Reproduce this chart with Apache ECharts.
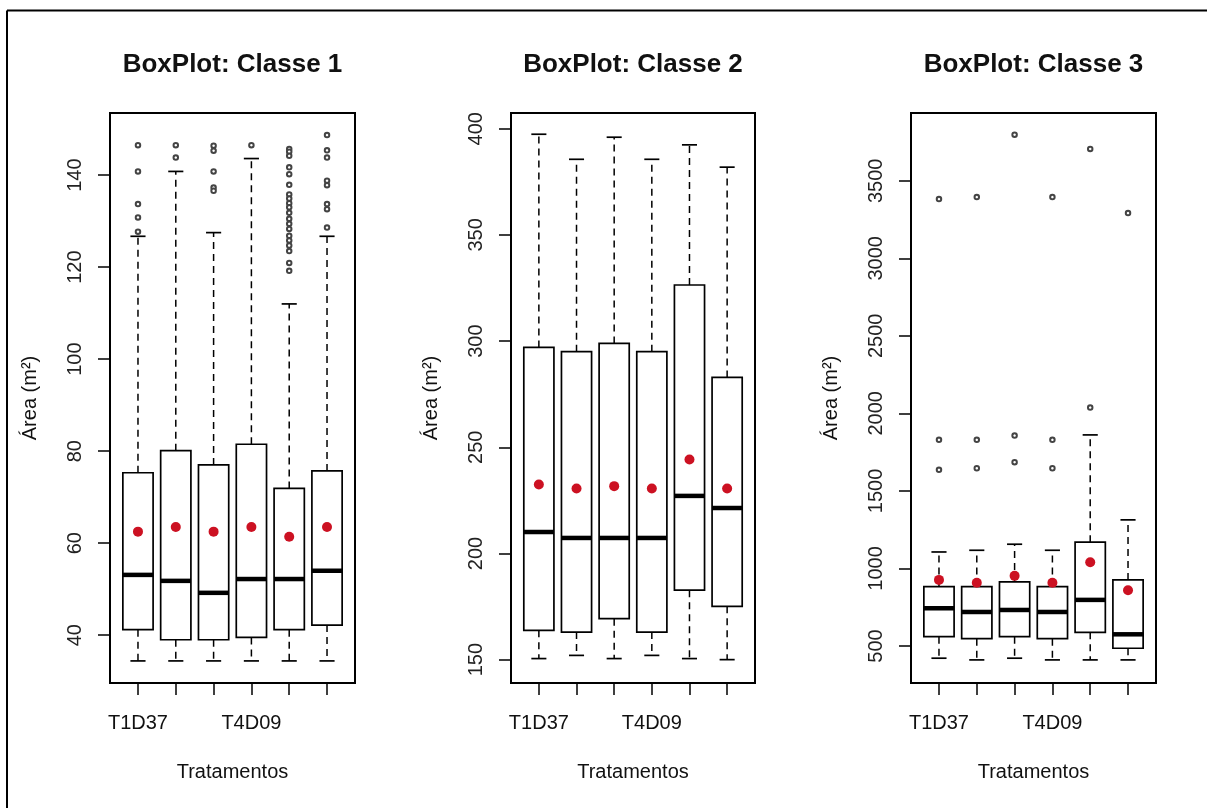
<!DOCTYPE html>
<html>
<head>
<meta charset="utf-8">
<script src="https://cdn.jsdelivr.net/npm/echarts@6/dist/echarts.min.js"></script>
<style>
html,body{margin:0;padding:0;background:#fff;}
#chart{width:1207px;height:808px;}
</style>
</head>
<body>
<div id="chart"></div>
<script>
// ---------- data ----------
const titles = ['BoxPlot: Classe 1', 'BoxPlot: Classe 2', 'BoxPlot: Classe 3'];
const xTickLabels = ['T1D37', '', '', 'T4D09', '', ''];
const xAxisTitle = 'Tratamentos';
const yAxisTitle = 'Área (m²)';

// [lower whisker, Q1, median, Q3, upper whisker]
const class1Stats = [
  [34.4, 41.2, 53.1, 75.3, 126.7],
  [34.4, 39.0, 51.8, 80.1, 140.8],
  [34.4, 39.0, 49.2, 77.0, 127.5],
  [34.4, 39.5, 52.2, 81.5, 143.6],
  [34.4, 41.2, 52.2, 71.9, 112.0],
  [34.4, 42.2, 54.0, 75.7, 126.7]
];
const class1Means = [62.5, 63.5, 62.5, 63.5, 61.4, 63.5];
const class1Outliers = [
  [1,146.5],[1,140.8],[1,133.7],[1,130.8],[1,127.7],
  [2,146.5],[2,143.8],
  [3,146.4],[3,145.3],[3,140.8],[3,137.3],[3,136.6],
  [4,146.5],
  [5,145.7],[5,145.1],[5,144.2],[5,141.7],[5,140.2],[5,137.9],[5,135.8],[5,134.9],
  [5,133.9],[5,133.0],[5,131.8],[5,130.5],[5,129.4],[5,128.3],[5,126.8],[5,125.8],
  [5,124.7],[5,123.5],[5,120.9],[5,119.2],
  [6,148.7],[6,145.4],[6,143.8],[6,138.8],[6,137.8],[6,133.7],[6,132.6],[6,128.6]
];
const class1Ticks = [40, 60, 80, 100, 120, 140];

const class2Stats = [
  [150.5, 163.8, 210.1, 297.0, 397.4],
  [152.0, 163.0, 207.3, 295.0, 385.6],
  [150.5, 169.3, 207.3, 298.9, 396.0],
  [152.0, 163.0, 207.3, 295.0, 385.6],
  [150.5, 182.7, 227.1, 326.4, 392.4],
  [150.0, 175.1, 221.4, 282.9, 381.9]
];
const class2Means = [232.5, 230.6, 231.7, 230.6, 244.2, 230.6];
const class2Outliers = [];
const class2Ticks = [150, 200, 250, 300, 350, 400];

const class3Stats = [
  [421, 560, 743, 883, 1106],
  [410, 547, 719, 883, 1117],
  [421, 560, 732, 913, 1156],
  [410, 547, 719, 883, 1117],
  [410, 588, 797, 1169, 1861],
  [410, 485, 575, 926, 1313]
];
const class3Means = [926, 908, 952, 908, 1040, 859];
const class3Outliers = [
  [1,1636],[1,1829],[1,3382],
  [2,1646],[2,1829],[2,3395],
  [3,1685],[3,1857],[3,3797],
  [4,1646],[4,1829],[4,3395],
  [5,2037],[5,3705],
  [6,3292]
];
const class3Ticks = [500, 1000, 1500, 2000, 2500, 3000, 3500];

// ---------- layout ----------
const panels = [
  {stats: class1Stats, means: class1Means, outliers: class1Outliers, ticks: class1Ticks,
   yMin: 29.6, yMax: 153.5, left: 110, width: 245},
  {stats: class2Stats, means: class2Means, outliers: class2Outliers, ticks: class2Ticks,
   yMin: 139.0, yMax: 407.4, left: 511, width: 244},
  {stats: class3Stats, means: class3Means, outliers: class3Outliers, ticks: class3Ticks,
   yMin: 261, yMax: 3937, left: 911, width: 245}
];
const gridTop = 113, gridHeight = 570;
const FONT = '"Liberation Sans", Arial, Helvetica, sans-serif';
const positions = [1, 2, 3, 4, 5, 6];

function renderBox(params, api) {
  const x = api.value(0);
  const lo = api.value(1), q1 = api.value(2), med = api.value(3), q3 = api.value(4), hi = api.value(5);
  const cx = api.coord([x, med])[0];
  const bl = api.coord([x - 0.4, med])[0], br = api.coord([x + 0.4, med])[0];
  const cl = api.coord([x - 0.2, med])[0], cr = api.coord([x + 0.2, med])[0];
  const yLo = api.coord([x, lo])[1], yQ1 = api.coord([x, q1])[1], yMed = api.coord([x, med])[1];
  const yQ3 = api.coord([x, q3])[1], yHi = api.coord([x, hi])[1];
  const dash = {stroke: '#000', lineWidth: 1.5, lineDash: [7, 5]};
  const solid = {stroke: '#000', lineWidth: 1.7};
  return {
    type: 'group',
    children: [
      {type: 'line', shape: {x1: cx, y1: yQ3, x2: cx, y2: yHi}, style: dash},
      {type: 'line', shape: {x1: cx, y1: yQ1, x2: cx, y2: yLo}, style: dash},
      {type: 'line', shape: {x1: cl, y1: yHi, x2: cr, y2: yHi}, style: solid},
      {type: 'line', shape: {x1: cl, y1: yLo, x2: cr, y2: yLo}, style: solid},
      {type: 'rect', shape: {x: bl, y: yQ3, width: br - bl, height: yQ1 - yQ3},
       style: {fill: '#fff', stroke: '#000', lineWidth: 1.7}},
      {type: 'line', shape: {x1: bl, y1: yMed, x2: br, y2: yMed},
       style: {stroke: '#000', lineWidth: 4.5}}
    ]
  };
}

const grids = [], xAxes = [], yAxes = [], series = [], graphics = [];
panels.forEach((p, i) => {
  grids.push({left: p.left, top: gridTop, width: p.width, height: gridHeight,
    show: true, borderColor: '#000', borderWidth: 2, backgroundColor: 'transparent'});
  xAxes.push({
    type: 'value', gridIndex: i, min: 0.26, max: 6.74,
    name: xAxisTitle, nameLocation: 'middle', nameGap: 79,
    nameTextStyle: {fontFamily: FONT, fontSize: 20, color: '#111'},
    axisLine: {show: false},
    splitLine: {show: false},
    axisTick: {show: true, length: 12, inside: false, customValues: positions,
      lineStyle: {color: '#000', width: 1.5}},
    axisLabel: {show: true, margin: 30, customValues: positions,
      fontFamily: FONT, fontSize: 20, color: '#111',
      formatter: v => xTickLabels[Math.round(v) - 1] || ''}
  });
  yAxes.push({
    type: 'value', gridIndex: i, min: p.yMin, max: p.yMax,
    name: yAxisTitle, nameLocation: 'middle', nameGap: 70, nameRotate: 90,
    nameTextStyle: {fontFamily: FONT, fontSize: 20, color: '#111'},
    axisLine: {show: false},
    splitLine: {show: false},
    axisTick: {show: true, length: 12, customValues: p.ticks,
      lineStyle: {color: '#000', width: 1.5}},
    axisLabel: {show: true, rotate: 90, margin: 25, customValues: p.ticks,
      fontFamily: FONT, fontSize: 20, color: '#222', showMinLabel: true, showMaxLabel: true,
      formatter: v => String(Math.round(v))}
  });
  series.push({
    type: 'custom', xAxisIndex: i, yAxisIndex: i, z: 2,
    renderItem: renderBox,
    encode: {x: 0, y: [1, 2, 3, 4, 5]},
    data: p.stats.map((s, k) => [positions[k]].concat(s)),
    silent: true
  });
  series.push({
    type: 'scatter', xAxisIndex: i, yAxisIndex: i, z: 4,
    symbol: 'circle', symbolSize: 10,
    itemStyle: {color: '#cc1122', opacity: 1},
    data: p.means.map((m, k) => [positions[k], m]),
    silent: true
  });
  series.push({
    type: 'scatter', xAxisIndex: i, yAxisIndex: i, z: 3,
    symbol: 'emptyCircle', symbolSize: 4.5,
    itemStyle: {color: '#444', borderColor: '#444', borderWidth: 0.9, opacity: 1},
    data: p.outliers,
    silent: true
  });
  graphics.push({
    type: 'text', x: p.left + p.width / 2, y: 65,
    style: {text: titles[i], textAlign: 'center', textVerticalAlign: 'middle',
      font: 'bold 26px ' + FONT, fill: '#111'}
  });
});
graphics.push({type: 'line', shape: {x1: 7, y1: 10.5, x2: 1207, y2: 10.5},
  style: {stroke: '#000', lineWidth: 2}});
graphics.push({type: 'line', shape: {x1: 7, y1: 10.5, x2: 7, y2: 808},
  style: {stroke: '#000', lineWidth: 2}});

const chart = echarts.init(document.getElementById('chart'), null, {renderer: 'canvas'});
chart.setOption({
  animation: false,
  backgroundColor: '#fff',
  grid: grids,
  xAxis: xAxes,
  yAxis: yAxes,
  series: series,
  graphic: graphics
});
</script>
</body>
</html>
